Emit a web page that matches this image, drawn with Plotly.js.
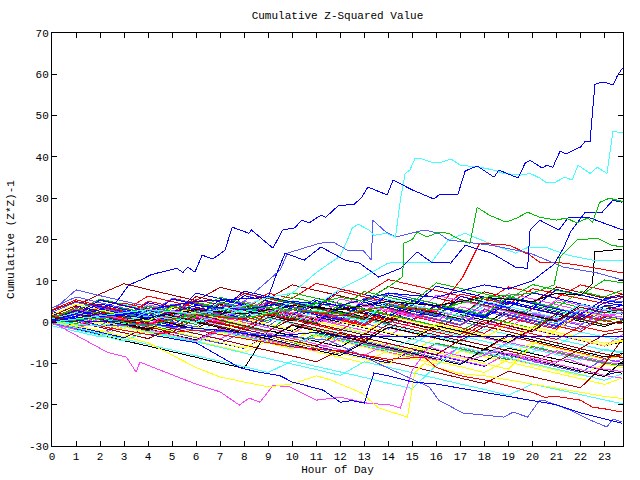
<!DOCTYPE html>
<html>
<head>
<meta charset="utf-8">
<script src="https://cdn.plot.ly/plotly-3.0.1.min.js"></script>
<style>
html,body{margin:0;padding:0;background:#fff;}
#chart{width:640px;height:480px;}
#chart path.js-line{shape-rendering:crispEdges;}
</style>
</head>
<body>
<div id="chart"></div>
<script>
// ---- hourly readings (hour 0..23 and last sample 23.75) ----
const hours = [0,1,2,3,4,5,6,7,8,9,10,11,12,13,14,15,16,17,18,19,20,21,22,23,23.75];

const s01 = [1.2,0.3,3.5,2.4,1.3,5.8,4.6,3.3,6.9,5.7,4.4,3.2,7.5,6.1,4.9,3.6,2.4,6.8,5.5,4.3,8.1,6.9,5.6,4.5,6.0];
const s02 = [0.4,-1.0,1.8,0.5,-0.8,-2.0,1.6,0.3,-1.1,-2.4,2.2,0.9,-0.4,3.0,1.7,0.3,-1.0,-2.3,1.1,-0.2,4.0,2.7,1.4,0.2,1.0];
const s03 = [2.0,3.9,2.6,1.2,4.7,3.4,2.0,0.7,4.3,3.0,1.6,5.8,4.5,3.1,1.9,0.6,4.2,2.9,1.5,5.0,3.7,2.4,1.1,4.8,3.9];
const s04 = [-0.5,-1.9,-3.2,-0.4,-1.8,-3.1,-4.5,-2.0,-3.4,-4.7,-6.0,-3.3,-4.6,-5.9,-7.3,-8.6,-5.2,-6.5,-7.8,-4.9,-6.2,-7.6,-8.9,-10.1,-9.0];
const s05 = [0.8,-0.6,2.5,1.1,-0.2,-1.6,-2.9,0.6,-0.7,-2.1,-3.4,-4.8,-1.4,-2.7,-4.1,-5.4,-2.0,-3.3,-4.7,-6.0,-7.4,-4.1,-5.4,-6.8,-7.5];
const s06 = [1.5,4.0,6.8,9.3,7.9,6.6,5.2,8.4,7.1,5.7,9.0,7.7,6.3,5.0,8.6,7.2,5.9,4.5,7.3,6.0,4.6,8.5,7.1,5.8,6.7];
const s07 = [-0.3,-1.7,-3.0,-4.4,-1.9,-3.2,-4.6,-5.9,-7.3,-4.5,-5.8,-7.2,-8.5,-9.9,-6.8,-8.1,-9.5,-10.8,-12.2,-9.0,-10.3,-11.7,-13.0,-10.1,-11.0];
const s08 = [0.6,2.9,1.5,0.2,3.8,2.5,1.1,-0.2,-1.6,2.0,0.7,-0.6,3.5,2.1,0.8,-0.5,-1.9,1.8,0.4,-0.9,-2.3,1.5,0.2,-1.1,0.4];
const s09 = [2.6,7.8,6.4,5.1,3.7,2.4,5.5,4.1,2.8,1.4,4.9,3.6,2.2,0.9,-0.5,2.8,1.5,0.1,-1.2,2.3,1.0,-0.4,-1.7,1.6,0.5];
const s10 = [-0.2,1.9,0.5,-0.8,-2.2,1.4,0.0,-1.3,-2.7,-4.0,-0.6,-1.9,-3.3,-4.6,-1.3,-2.6,-4.0,-5.3,-6.7,-3.4,-4.7,-6.1,-7.4,-8.8,-7.9];
const s11 = [1.0,2.8,5.6,4.2,2.9,1.5,4.8,3.5,2.1,5.9,4.6,3.2,1.9,0.5,4.1,2.8,1.4,5.3,4.0,2.6,1.3,4.9,3.6,2.2,3.0];
const s12 = [0.3,-1.1,-2.4,-3.8,-1.0,-2.3,-3.7,-5.0,-6.4,-3.2,-4.5,-5.9,-7.2,-8.6,-9.9,-6.7,-8.0,-9.4,-10.7,-7.5,-8.8,-10.2,-11.5,-12.9,-11.8];
const s13 = [1.3,0.0,3.4,2.0,0.7,-0.7,2.6,1.3,-0.1,-1.4,-2.8,0.6,-0.7,-2.1,-3.4,0.2,-1.1,-2.5,-3.8,-5.2,-1.8,-3.1,-4.5,-5.8,-3.0];
const s14 = [0.9,2.4,1.1,4.3,3.0,1.6,0.3,3.7,2.4,1.0,5.2,3.9,2.5,1.2,4.6,3.3,1.9,0.6,3.8,2.5,1.1,-0.2,3.1,1.8,2.5];
const s15 = [2.2,1.8,5.4,4.0,2.7,1.3,6.2,4.9,3.5,2.2,0.8,4.6,3.3,1.9,0.6,4.0,2.7,1.3,6.0,4.7,3.3,2.0,0.6,3.9,2.8];
const s16 = [0.1,-1.3,1.5,0.2,-1.2,-2.5,0.9,-0.4,-1.8,-3.1,-4.5,-1.6,-2.9,-4.3,-5.6,-7.0,-3.9,-5.2,-6.6,-7.9,-5.0,-6.3,-7.7,-9.0,-8.2];
const s17 = [-0.4,-1.8,-3.1,-4.5,-5.8,-7.2,-8.5,-9.9,-11.2,-2.0,-3.3,-4.7,-6.0,-2.8,-4.1,-5.5,-6.8,-8.2,-9.5,-6.3,-7.6,-9.0,-10.3,-11.7,-12.4];
const s18 = [3.4,6.1,4.7,3.4,2.0,5.7,4.4,3.0,1.7,5.1,3.8,2.4,1.1,-0.3,3.2,1.9,0.5,-0.8,2.6,1.3,-0.1,-1.4,2.0,0.7,1.5];
const s19 = [0.9,3.6,2.2,0.9,5.1,3.8,2.4,1.1,4.6,3.3,1.9,0.6,4.3,3.0,1.6,0.3,3.9,2.6,1.2,-0.1,3.2,1.9,0.5,2.8,3.3];
const s20 = [-0.7,1.5,0.2,3.4,2.1,0.7,-0.6,3.0,1.7,0.3,5.1,3.8,2.4,1.1,-0.3,3.5,2.2,0.8,5.9,4.6,3.2,1.9,0.5,4.0,3.1];
const s21 = [1.7,0.4,3.2,1.9,0.5,-0.8,2.9,1.6,6.4,5.1,3.7,2.4,1.0,4.8,3.5,2.1,0.8,-0.6,3.0,1.7,0.3,-1.0,2.5,1.2,0.6];
const s22 = [0.2,-1.2,1.4,0.1,-1.3,2.1,0.8,-0.6,3.3,2.0,0.6,-0.7,2.6,1.3,-0.1,4.0,2.7,1.3,0.0,-1.4,2.2,0.9,-0.5,1.9,1.2];
const s23 = [1.1,2.7,1.4,0.0,3.1,1.8,0.4,-0.9,-2.3,1.0,-0.3,-1.7,-3.0,0.5,-0.8,-2.2,-3.5,-4.9,-1.7,-3.0,-4.4,-5.7,-2.4,-3.7,-4.5];
const s24 = [2.8,5.0,3.6,2.3,0.9,4.3,3.0,1.6,0.3,6.1,4.8,3.4,2.1,0.7,4.4,3.1,1.7,5.5,4.2,2.8,1.5,0.1,3.6,2.3,3.2];
const s25 = [-0.1,1.5,0.2,-1.2,-2.5,-3.9,-1.1,-2.4,-3.8,-5.1,-6.5,-3.4,-4.7,-6.1,-7.4,-8.8,-10.1,-7.0,-8.3,-9.7,-11.0,-12.4,-13.7,-15.1,-13.5];
const s26 = [0.5,2.2,0.9,-0.5,2.9,1.6,0.2,4.3,3.0,1.6,0.3,3.9,2.6,1.2,-0.1,3.4,2.1,0.7,-0.6,3.0,1.7,0.3,4.1,2.8,1.9];
const s27 = [-0.2,-1.6,-2.9,0.2,-1.1,-2.5,-3.8,-5.2,-2.3,-3.6,-5.0,-6.3,-7.7,-4.6,-5.9,-7.3,-8.6,-10.0,-6.8,-8.1,-9.5,-10.8,-12.2,-8.9,-9.8];
const s28 = [1.6,0.3,3.8,2.5,1.1,-0.2,3.4,2.1,0.7,4.5,3.2,1.8,0.5,-0.9,2.7,1.4,0.0,-1.3,-2.7,1.0,-0.3,-1.7,1.6,0.3,-0.5];
const s29 = [0.0,-1.4,1.0,-0.3,-1.7,-3.0,-4.4,-1.7,-3.0,-4.4,-5.7,-2.7,-4.0,-5.4,-6.7,-8.1,-5.1,-6.4,-7.8,-9.1,-5.9,-7.2,-8.6,-9.9,-10.6];
const s30 = [-0.8,1.3,3.9,2.6,1.2,5.6,4.3,2.9,7.5,6.2,4.8,3.5,8.0,6.7,5.3,4.0,8.7,7.4,6.0,4.7,3.3,7.9,6.6,5.2,4.6];
const s31 = [0.3,-1.1,2.6,1.3,-0.1,-1.4,-2.8,-4.1,-1.3,-2.6,-4.0,-5.3,-6.7,-8.0,-5.2,-6.5,-7.9,-9.2,-10.6,-7.5,-8.8,-10.2,-11.5,-12.9,-13.6];
const s32 = [-0.9,-2.3,-3.6,-1.0,-2.3,-3.7,-5.0,-2.2,-3.5,-4.9,-6.2,-3.0,-4.3,-5.7,-7.0,-4.1,-5.4,-6.8,-8.1,-5.2,-6.5,-7.9,-9.2,-6.6,-7.2];
const s33 = [1.4,0.1,-1.3,-2.6,-4.0,-1.5,-2.8,-4.2,-5.5,-6.9,-8.2,-9.6,-6.8,-8.1,-9.5,-10.8,-12.2,-13.5,-14.9,-11.9,-13.2,-14.6,-15.9,-10.2,-4.0];
const s34 = [0.6,-0.8,-2.1,-3.5,-0.9,-2.2,-3.6,-4.9,-6.3,-3.5,-4.8,-6.2,-7.5,-8.9,-10.2,-6.0,-7.3,-8.7,-10.0,-11.4,-5.5,-2.0,2.5,1.2,0.4];
const s35 = [1.9,0.6,-0.8,2.3,1.0,-0.4,-1.7,1.8,0.5,-0.9,-2.2,1.3,0.0,-1.4,-2.7,-4.1,-0.9,-2.2,-3.6,-4.9,-1.7,-3.0,-4.4,-5.7,-4.8];
const s36 = [-0.3,1.9,0.6,-0.8,3.0,1.7,0.3,4.6,3.3,1.9,0.6,5.2,3.9,2.5,7.1,5.8,4.4,3.1,1.7,6.0,4.7,3.3,2.0,5.5,4.9];
const s37 = [3.0,5.4,4.0,2.7,6.3,5.0,3.6,2.3,0.9,4.8,3.5,2.1,0.8,-0.6,3.3,2.0,0.6,-0.7,3.1,1.8,0.4,-0.9,-2.3,1.4,0.8];
const s38 = [1.2,3.0,1.7,0.3,-1.0,2.4,1.1,-0.3,3.8,2.5,1.1,-0.2,4.5,3.2,1.8,0.5,-0.9,2.5,1.2,-0.2,-1.5,2.0,0.7,-0.7,0.4];
const s39 = [0.7,2.1,5.3,4.0,2.6,1.3,7.0,5.7,4.3,3.0,1.6,5.2,3.9,2.5,6.6,5.3,3.9,2.6,1.2,5.8,4.5,3.1,1.8,5.6,6.3];
const s40 = [0.4,3.1,1.8,0.4,4.2,2.9,1.5,0.2,5.0,3.7,2.3,1.0,-0.4,3.9,2.6,1.2,6.5,5.2,3.8,2.5,1.1,5.4,4.1,2.7,3.4];
const s41 = [-0.5,-1.9,-3.2,-4.6,-2.1,-3.4,-4.8,-6.1,-7.5,-8.8,-10.2,-11.5,-12.9,-9.6,-10.9,-12.3,-13.6,-15.0,-16.3,-17.7,-15.0,-16.3,-17.7,-19.0,-19.8];
const s42 = [0.8,2.9,1.6,0.2,-1.1,-2.5,0.9,-0.4,-1.8,-3.1,-4.5,-5.8,-2.5,-3.8,-5.2,-6.5,-7.9,-4.3,-5.6,-7.0,-8.3,-9.7,-6.5,-7.8,-8.6];
const s43 = [-0.7,1.0,-0.3,-1.7,1.5,0.2,-1.2,-2.5,0.8,-0.5,-1.9,-3.2,0.1,-1.2,-2.6,-3.9,-0.5,-1.8,-3.2,-4.5,-1.1,-2.4,-3.8,-5.1,-4.4];
const s44 = [0.1,2.4,1.1,-0.3,-1.6,-3.0,-4.3,-1.4,-2.7,-4.1,-5.4,-6.8,-8.1,-4.9,-6.2,-7.6,-8.9,-10.3,-6.5,-7.8,-9.2,-10.5,-11.9,-13.2,-9.5];
const s45 = [1.8,0.5,-0.9,2.8,1.5,0.1,-1.2,2.6,1.3,-0.1,3.7,2.4,1.0,-0.3,-1.7,2.1,0.8,-0.6,3.2,1.9,0.5,-0.8,2.8,1.5,0.7];
const s46 = [0.9,2.5,1.2,4.6,3.3,1.9,5.5,4.2,2.8,7.0,5.7,9.4,8.1,6.7,10.3,9.0,7.6,6.3,4.9,8.5,7.2,5.8,9.0,7.7,6.8];
const s47 = [1.0,-0.4,2.7,1.4,0.0,3.9,2.6,6.0,4.7,3.3,7.1,5.8,4.4,3.1,1.7,5.7,4.4,3.0,1.7,6.2,4.9,3.5,7.4,6.1,7.8];
const s48 = [0.5,2.8,1.5,0.1,3.9,2.6,1.2,5.4,4.1,2.7,1.4,0.0,3.8,2.5,1.1,5.0,3.7,2.3,1.0,4.6,3.3,1.9,0.6,3.9,4.4];
const s49 = [-0.4,-1.8,0.9,-0.4,-1.8,-3.1,-4.5,-1.6,-2.9,-4.3,-5.6,-7.0,-3.8,-5.1,-6.5,-7.8,-9.2,-6.1,-7.4,-8.8,-10.1,-6.9,-8.2,-9.6,-10.3];
const s50 = [0.0,-1.4,-2.7,-4.1,-5.4,-6.8,-8.1,-9.5,-10.8,-12.2,-9.4,-10.7,-12.1,-13.4,-14.8,-16.1,-10.5,-6.0,-7.3,-8.7,-10.0,-11.4,-12.7,-14.1,-12.5];
const s51 = [0.3,2.0,0.7,-0.7,-2.0,1.6,0.3,-1.1,-2.4,1.2,-0.1,-1.5,-2.8,-4.2,-0.5,-1.8,-3.2,-4.5,-1.0,-2.3,-3.7,-5.0,-6.4,-3.0,-2.2];
const s52 = [1.8,4.3,3.0,1.6,0.3,3.5,2.2,0.8,-0.5,2.8,1.5,0.1,-1.2,-2.6,1.5,0.2,-1.2,-2.5,-3.9,-0.3,-1.6,-3.0,-4.3,-5.7,-4.6];
const s53 = [0.6,2.2,0.9,-0.5,-1.8,1.3,0.0,-1.4,-2.7,-4.1,-0.8,-2.1,-3.5,-4.8,-1.2,-2.5,-3.9,-5.2,-6.6,-3.0,-4.3,-5.7,-7.0,-8.4,-7.6];
const s54 = [2.4,4.8,3.5,2.1,0.8,4.4,3.1,1.7,0.4,-1.0,3.0,1.7,0.3,5.8,4.5,3.1,1.8,0.4,4.6,3.3,1.9,0.6,-0.8,3.0,2.2];
const s55 = [0.2,-1.2,1.7,0.4,-1.0,2.5,1.2,-0.2,-1.5,1.9,0.6,-0.8,-2.1,1.6,0.3,-1.1,-2.4,-3.8,-0.2,-1.5,-2.9,-4.2,-1.0,-2.3,-1.6];
const s56 = [1.0,3.3,2.0,0.6,3.9,2.6,1.2,4.8,3.5,2.1,6.0,4.7,3.3,7.4,6.1,4.7,9.5,8.2,6.8,5.5,9.1,7.8,6.4,10.2,9.5];
const s57 = [0.5,2.0,4.4,3.1,1.7,0.4,3.6,2.3,0.9,4.5,3.2,1.8,0.5,5.3,4.0,2.6,1.3,6.2,4.9,3.5,7.1,5.8,4.4,3.1,4.0];
const s58 = [0.2,-1.2,2.0,0.7,-0.7,2.8,1.5,0.1,4.2,2.9,1.5,0.2,5.6,4.3,2.9,1.6,0.2,3.7,2.4,6.9,5.6,4.2,2.9,1.5,2.2];
const s59 = [0.8,2.3,1.0,-0.4,2.6,1.3,-0.1,3.6,2.3,0.9,-0.4,2.9,1.6,0.2,5.5,4.2,2.8,1.5,5.1,3.8,2.4,1.1,4.3,3.0,2.1];
const s60 = [1.4,0.1,2.5,1.2,-0.2,-1.5,1.8,0.5,-0.9,-2.2,0.9,-0.4,-1.8,-3.1,1.0,-0.3,-1.7,-3.0,0.5,-0.8,-2.2,2.1,0.8,-0.6,0.3];

// ---- lines read at finer time steps ----
const topBlueH = [0,1,2,2.7,3.2,3.7,4.1,4.4,5.2,5.45,5.65,5.95,6.25,6.7,7.2,7.5,8.2,8.3,9.2,9.6,10.1,10.4,10.7,11.2,11.4,11.9,12.6,12.9,13.15,13.95,14.2,15.0,15.9,16.15,16.9,17.2,17.7,18.4,18.6,19.4,19.7,19.9,20.4,20.6,20.85,21.15,21.4,22.0,22.2,22.4,22.6,22.9,23.1,23.35,23.55,23.75];
const topBlueV = [0,1.5,3,5,9,10.2,11.4,11.9,13,12,13.3,12.1,16.2,15.3,17.4,23,21.5,22.3,17.9,22.3,22.8,24.7,24,25.9,25.4,28.1,28.6,30.3,32.7,30.8,34.4,32,29.8,31,31,36.6,37.8,35.1,36.8,34.9,38.5,39.2,37.3,38,37.5,41.4,40.7,42.4,43.8,43.8,57.6,58.1,57.9,57.4,59.8,61.5];

const cyanHighH = [0,2,4,6,8,9,10,11,12,12.3,12.5,12.75,13.2,13.4,13.9,14.3,14.5,14.7,14.9,15.1,15.4,15.8,16.2,16.6,17.0,17.8,18.4,18.8,19.5,19.9,20.3,20.6,20.9,21.35,21.65,21.9,22.4,22.7,23.1,23.35,23.75];
const cyanHighV = [0,1.5,3,2,4,6,7,12,16,19.9,22.8,23.7,22.3,21,21.5,20.6,29.5,36,36.8,39.5,39.5,38.7,38.7,39.5,38,37.5,36.8,36,35.6,36,34.9,33.7,33.7,35.1,34.4,38,36,37.5,36,46.2,45.8];

const greenHighH = [0,2,4,6,8,10,12,13,14,14.6,14.65,15,15.2,15.6,16.1,16.5,17,17.4,17.7,18.2,18.9,19.35,19.8,20.3,21.0,21.4,21.85,22.3,22.5,22.8,23.2,23.55,23.75];
const greenHighV = [0,1,-1,2,4,3,6,5,8.5,11,19.1,20,21.8,20.6,21.8,21.5,19.9,19.1,27.8,25.9,24.2,25.2,26.6,25.4,24.7,25.2,24,25.2,24.2,29,30,29.5,29.2];

const greenLateH = [0,2,4,6,8,10,12,14,16,18,20,20.9,21.15,21.85,22.7,23.3,23.75];
const greenLateV = [0,1,-1,2,1,3,2,4,3,6,7,9,15.7,19.9,20.3,18.6,18.2];

const blueMidH = [0,3,6,9,9.3,9.7,10.5,11.2,12.2,12.8,13.6,14.5,15.2,15.8,16.6,17.2,18.3,19.3,19.8,19.9,20.3,21.1,21.5,22.4,23.75];
const blueMidV = [0,2,5,6,10.9,16.7,15,18.2,15,14.3,10.9,13,17,14.5,14.3,18.6,16.7,13.3,13,22.3,24.7,22.3,25.4,25.2,22.3];

const blueLateH = [0,2,4,6,8,10,12,14,16,18,19,20,20.9,21.3,21.6,22.2,22.9,23.35,23.75];
const blueLateV = [0,2,1,4,3,5,4,7,6,9,8,10,14,18,22,26.6,26.6,29.5,29];

const slateHighH = [0,2,4,6,8,9.5,9.8,11.15,11.7,12.3,12.95,13.3,13.35,13.9,14.3,14.9,15.5,16.1,16.5,17.2,18.3,19.9,21.3,22.7,23.75];
const slateHighV = [0,1,3,2,5,12.6,16.7,19.1,19.4,17.4,17.4,15,24.7,21.8,20.6,21.5,22.3,21.5,19.9,19.4,18.6,16.7,13.3,11.9,10.2];

const redRiseH = [0,2,4,6,8,10,12,14,16,17.1,17.8,19.06,19.9,20.3,21.0,21.9,22.8,23.75];
const redRiseV = [0,1.5,-0.5,2,0.5,3,1.5,4,2.5,10.9,19.1,18.6,16.2,14.5,14.5,13.8,12.9,11.9];

const cyanFlatH = [0,2,4,6,8,9,10,11,12,13,14,15.8,16.5,17.2,18.2,19.3,19.85,20.6,21.5,22.1,22.5,23.75];
const cyanFlatV = [0,-1,1.5,0,3,2,5,4,8,11,14.3,14.5,19.9,21.5,19.1,16.7,18.2,18,16.2,15.5,15,15];

const blackLateH = [0,2,4,6,8,10,12,14,16,18,20,21,22,22.5,22.6,23.2,23.75];
const blackLateV = [0,-1,1,3,2,4,3,5,4,6,5,7,6.5,9.4,17,17.4,17.7];

const blueFlatH = [0,1,2,3,3.5,5,7,9,11,12,12.5,23.75];
const blueFlatV = [0,0.3,0.2,0.1,0,-1,-2,-3.5,-2.5,-3.6,-3.6,-3.6];

const magentaLowH = [0,1.16,2.3,3.1,3.5,3.66,5.0,5.9,7.0,7.8,8.2,8.66,9.2,9.9,11.0,12.0,13.1,14.1,14.5,14.7,15.0,15.7,16.5,17.5,18.5,19.5,20.5,21.5,22.5,23.75];
const magentaLowV = [0,-3.6,-7.3,-8.5,-12.1,-9.7,-12.8,-14.8,-16.9,-20.1,-18.4,-19.4,-15.3,-15.7,-18.9,-18.2,-19.6,-20.1,-20.8,-17.2,-11.6,-6,-7.5,-9,-7,-8.5,-10,-9,-11,-12];

const yellowLowH = [0,2,4,5,6,7,8,9,10,11,11.6,12.9,13.6,14.3,14.8,15.1,15.5,16,17,18,19,20,21,22,23,23.75];
const yellowLowV = [0,-2,-5,-8,-11,-13.3,-14.5,-15.7,-15,-13,-14,-17.2,-20.8,-22,-23,-12.3,-10,-11,-12.5,-13,-14,-15,-16,-17,-18,-18.5];

const slateLowH = [0,2,4,6,8,10,11.5,12.5,13.9,15.7,16.1,17.1,17.9,18.8,19.2,19.8,20.3,20.5,21.56,22.4,23.1,23.35,23.75];
const slateLowV = [0,-1,-0.5,-2,-2.5,-3.5,-4.4,-7,-10.9,-15.7,-18.9,-22,-22.5,-23,-21.8,-23,-18.9,-19,-21.3,-23.7,-25.4,-23.5,-24.2];

const blueLowH = [0,2,4,6,7.8,8.5,9.5,10,11.3,12,12.5,13,13.4,14,15,16,17,18,19,20,21,22,23,23.75];
const blueLowV = [0,-1,-3,-5,-11,-12,-13,-14.5,-16.5,-19.4,-19,-19.6,-12.3,-13,-14.5,-15,-16,-17,-18,-19,-20,-22,-23.5,-24.5];

const redLowH = [0,2,4,6,8,10,12,14,15.5,16,17,18,19,20,20.5,21,22,22.5,23,23.75];
const redLowV = [0,-1,-3,-2,-4,-6,-7,-9,-8.5,-11,-13,-14,-15.5,-17,-18.2,-18,-18.9,-20.6,-21,-21.8];

const xTickVals = [0,1,2,3,4,5,6,7,8,9,10,11,12,13,14,15,16,17,18,19,20,21,22,23];
const yTickVals = [-30,-20,-10,0,10,20,30,40,50,60,70];

// ---- styling ----
const palette = {red:'#ff0000', green:'#00c000', blue:'#0000ff', magenta:'#ff40ff', cyan:'#40ffff', dkred:'#a00000', yellow:'#ffff00', black:'#000000', slate:'#5858ff'};
const crowd = [s01,s02,s03,s04,s05,s06,s07,s08,s09,s10,s11,s12,s13,s14,s15,s16,s17,s18,s19,s20,s21,s22,s23,s24,s25,s26,s27,s28,s29,s30,s31,s32,s33,s34,s35,s36,s37,s38,s39,s40,s41,s42,s43,s44,s45,s46,s47,s48,s49,s50,s51,s52,s53,s54,s55,s56,s57,s58,s59,s60];
const cycle = ['red','green','blue','magenta','cyan','dkred','yellow','black','slate'];

const traces = [];
crowd.forEach((ys, i) => {
  traces.push({x: hours, y: ys, type:'scatter', mode:'lines', line:{color: palette[cycle[i % cycle.length]], width:1}, hoverinfo:'skip'});
});
const featured = [
  [magentaLowH, magentaLowV, 'magenta'],
  [yellowLowH, yellowLowV, 'yellow'],
  [slateLowH, slateLowV, 'slate'],
  [blueLowH, blueLowV, 'blue'],
  [redLowH, redLowV, 'red'],
  [blueFlatH, blueFlatV, 'blue'],
  [blackLateH, blackLateV, 'black'],
  [cyanFlatH, cyanFlatV, 'cyan'],
  [redRiseH, redRiseV, 'red'],
  [slateHighH, slateHighV, 'slate'],
  [blueLateH, blueLateV, 'blue'],
  [blueMidH, blueMidV, 'blue'],
  [greenLateH, greenLateV, 'green'],
  [greenHighH, greenHighV, 'green'],
  [cyanHighH, cyanHighV, 'cyan'],
  [topBlueH, topBlueV, 'blue']
];
featured.forEach(f => {
  traces.push({x: f[0], y: f[1], type:'scatter', mode:'lines', line:{color: palette[f[2]], width:1}, hoverinfo:'skip'});
});

const fnt = {family:'Liberation Mono, DejaVu Sans Mono, monospace', size:11, color:'#000'};
const layout = {
  width:640, height:480,
  paper_bgcolor:'#fff', plot_bgcolor:'#fff',
  margin:{l:52, r:17, t:33, b:34},
  showlegend:false,
  font: fnt,
  title:{text:'Cumulative Z-Squared Value', font:fnt, x:0.5, xref:'paper', y:1-15/480, yref:'container', yanchor:'middle'},
  xaxis:{
    range:[0,23.77], tickvals:xTickVals, ticktext:xTickVals.map(String),
    ticks:'inside', ticklen:5, tickcolor:'#000', tickwidth:1,
    showline:true, linecolor:'#000', linewidth:1, mirror:'ticks',
    showgrid:false, zeroline:false, tickfont:fnt,
    title:{text:'Hour of Day', font:fnt, standoff:3}
  },
  yaxis:{
    range:[-30,70], tickvals:yTickVals, ticktext:yTickVals.map(String),
    ticks:'inside', ticklen:5, tickcolor:'#000', tickwidth:1,
    showline:true, linecolor:'#000', linewidth:1, mirror:'ticks',
    showgrid:false, zeroline:false, tickfont:fnt,
    title:{text:'Cumulative (Z*Z)-1', font:fnt, standoff:12}
  }
};
Plotly.newPlot('chart', traces, layout, {staticPlot:true, displayModeBar:false});
</script>
</body>
</html>
